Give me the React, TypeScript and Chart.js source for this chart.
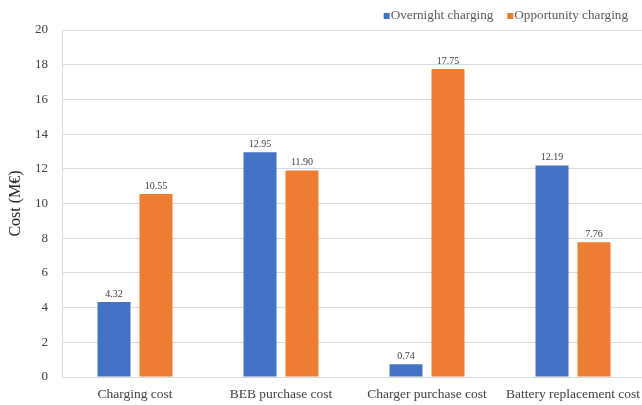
import React, { useEffect, useRef } from "react";
import { Chart, registerables } from "chart.js";

Chart.register(...registerables);

const categories = ["Charging cost", "BEB purchase cost", "Charger purchase cost", "Battery replacement cost"];
const overnight = [4.32, 12.95, 0.74, 12.19];
const opportunity = [10.55, 11.9, 17.75, 7.76];
const seriesNames = ["Overnight charging", "Opportunity charging"];
const yTicks = [0, 2, 4, 6, 8, 10, 12, 14, 16, 18, 20];

const FONT = "'Liberation Serif', 'Times New Roman', serif";

const valueLabels = {
  id: "valueLabels",
  afterDatasetsDraw(chart: any) {
    const ctx = chart.ctx;
    ctx.save();
    ctx.font = `10px ${FONT}`;
    ctx.fillStyle = "#404040";
    ctx.textAlign = "center";
    ctx.textBaseline = "bottom";
    chart.data.datasets.forEach((ds: any, i: number) => {
      const meta = chart.getDatasetMeta(i);
      meta.data.forEach((bar: any, j: number) => {
        ctx.fillText(Number(ds.data[j]).toFixed(2), bar.x, bar.y - 3);
      });
    });
    ctx.restore();
  },
};

const customLegend = {
  id: "customLegend",
  afterDraw(chart: any) {
    const ctx = chart.ctx;
    ctx.save();
    ctx.font = `13.2px ${FONT}`;
    ctx.textBaseline = "middle";
    ctx.textAlign = "left";
    const rightEdge = 628;
    const gap = 14;
    const box = 6;
    const boxGap = 1;
    const items = chart.data.datasets.map((ds: any) => ({ label: ds.label, color: ds.backgroundColor, w: ctx.measureText(ds.label).width }));
    let total = 0;
    items.forEach((it: any, i: number) => { total += box + boxGap + it.w + (i > 0 ? gap : 0); });
    let x = rightEdge - total;
    const y = 16;
    items.forEach((it: any) => {
      ctx.fillStyle = it.color;
      ctx.fillRect(x, y - box / 2, box, box);
      x += box + boxGap;
      ctx.fillStyle = "#595959";
      ctx.fillText(it.label, x, y);
      x += it.w + gap;
    });
    ctx.restore();
  },
};

export default function App() {
  const ref = useRef<HTMLCanvasElement>(null);
  useEffect(() => {
    document.body.style.overflow = "hidden";
    const chart = new Chart(ref.current!, {
      type: "bar",
      data: {
        labels: categories,
        datasets: [
          { label: seriesNames[0], data: overnight, backgroundColor: "#4472C4", borderWidth: 0 },
          { label: seriesNames[1], data: opportunity, backgroundColor: "#ED7D31", borderWidth: 0 },
        ],
      },
      options: {
        animation: false,
        responsive: false,
        layout: { padding: { left: 0, right: 14, top: 30, bottom: 0 } },
        datasets: { bar: { categoryPercentage: 0.575, barPercentage: 0.786 } },
        plugins: {
          tooltip: { enabled: false },
          legend: { display: false },
        },
        scales: {
          x: {
            grid: { display: false, drawTicks: false },
            border: { color: "#d9d9d9" },
            ticks: { color: "#404040", font: { family: FONT, size: 13.5 }, padding: 9, maxRotation: 0, autoSkip: false },
            afterFit: (s: any) => { s.height = 28; },
          },
          y: {
            min: 0,
            max: 20,
            afterBuildTicks: (s: any) => { s.ticks = yTicks.map((v) => ({ value: v })); },
            grid: { color: "#d9d9d9", drawTicks: false },
            border: { color: "#d9d9d9" },
            ticks: { color: "#404040", font: { family: FONT, size: 13 }, padding: 14 },
            title: { display: true, text: "Cost (M€)", color: "#262626", font: { family: FONT, size: 16 }, padding: { top: 6, bottom: 0 } },
            afterFit: (s: any) => { s.width = 62; },
          },
        },
      },
      plugins: [valueLabels, customLegend],
    });
    return () => chart.destroy();
  }, []);
  return (
    <div style={{ position: "absolute", left: 0, top: 0, width: 660, height: 405 }}>
      <canvas ref={ref} width={660} height={405} />
    </div>
  );
}
